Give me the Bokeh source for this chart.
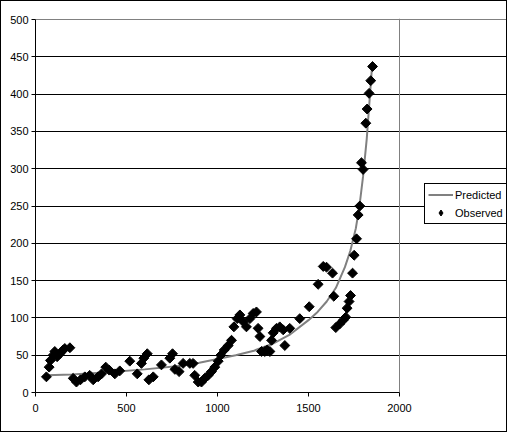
import math
from bokeh.plotting import figure
from bokeh.models import Range1d, FixedTicker, Legend, LegendItem, Grid
from bokeh.embed import file_html
from bokeh.resources import INLINE

obs_x = [60, 75, 82, 97, 106, 119, 134, 152, 161, 189, 207, 225, 247, 271, 298, 317, 344, 363,
         386, 405, 436, 463, 518, 559, 582, 595, 614, 623, 647, 692, 738, 753, 766, 789, 811,
         848, 866, 875, 894, 912, 930, 949, 967, 985, 1004, 1018, 1037, 1059, 1077, 1090,
         1108, 1123, 1141, 1159, 1178, 1196, 1214, 1223, 1233, 1242, 1260, 1273, 1288, 1297,
         1306, 1324, 1342, 1361, 1370, 1397, 1452, 1504, 1553, 1581, 1599, 1632, 1639, 1650,
         1672, 1691, 1705, 1712, 1723, 1731, 1742, 1751, 1764, 1773, 1782, 1791, 1800, 1815,
         1822, 1833, 1842, 1852]
obs_y = [21, 34, 43, 50, 55, 48, 52, 57, 59, 60, 19, 14, 17, 21, 23, 17, 21, 25,
         34, 30, 25, 29, 42, 25, 39, 46, 52, 17, 21, 37, 46, 52, 31, 28, 39,
         39, 39, 23, 14, 14, 19, 23, 28, 34, 42, 50, 57, 63, 70, 88,
         99, 104, 95, 88, 99, 106, 108, 86, 75, 55, 55, 57, 55, 70,
         80, 86, 88, 84, 63, 86, 99, 115, 145, 169, 168, 160, 129, 87,
         92, 97, 101, 113, 122, 130, 160, 184, 206, 238, 250, 308, 299, 361,
         380, 401, 418, 437]

# Predicted curve
pred_x = [60, 200, 400, 600, 800, 900, 1000, 1100, 1200, 1300, 1400, 1500, 1550, 1600, 1650,
          1700, 1730, 1760, 1780, 1800, 1820, 1835, 1850]
pred_y = [23, 24, 27, 31, 36, 40, 45, 50, 56, 65, 78, 97, 108, 122, 140,
          168, 190, 220, 250, 290, 340, 390, 440]

x_ticks = [0, 500, 1000, 1500, 2000]
y_ticks = [0, 50, 100, 150, 200, 250, 300, 350, 400, 450, 500]
X_MIN, X_MAX = 0, 2000
Y_MIN, Y_MAX = 0, 500

FONT = "Liberation Sans"

PLOT_W = 364       # width of the plotting area (0..2000)
PLOT_H = 373       # height of the plotting area (0..500)
LEGEND_ROOM = 107  # extra room on the right for the legend
x_end = X_MAX * (PLOT_W + LEGEND_ROOM) / PLOT_W
y_end = Y_MAX * (PLOT_H + 1) / PLOT_H   # 1px headroom so the top border shows

p = figure(frame_width=PLOT_W + LEGEND_ROOM, frame_height=PLOT_H + 1,
           output_backend="svg", toolbar_location=None,
           x_range=Range1d(X_MIN, x_end), y_range=Range1d(Y_MIN, y_end),
           min_border_left=34, min_border_right=0, min_border_top=17, min_border_bottom=39)
p.styles = {"border": "1px solid black"}
p.background_fill_color = "white"
p.border_fill_color = "white"
p.outline_line_color = None

p.xgrid.visible = False
p.ygrid.ticker = FixedTicker(ticks=y_ticks[1:-1])
p.ygrid.grid_line_color = "black"
p.ygrid.grid_line_width = 1
p.ygrid.bounds = (X_MIN, X_MAX)

# gray plot-area border (top and right)
p.add_layout(Grid(dimension=1, ticker=FixedTicker(ticks=[Y_MAX]), bounds=(X_MIN, X_MAX),
                  grid_line_color="#808080", grid_line_width=1))
p.add_layout(Grid(dimension=0, ticker=FixedTicker(ticks=[X_MAX]), bounds=(Y_MIN, Y_MAX),
                  grid_line_color="#808080", grid_line_width=1))

for ax, ticks in ((p.xaxis, x_ticks), (p.yaxis, y_ticks)):
    ax.ticker = FixedTicker(ticks=ticks)
    ax.axis_line_color = "black"
    ax.major_tick_line_color = "black"
    ax.major_tick_out = 4
    ax.major_tick_in = 0
    ax.minor_tick_line_color = None
    ax.major_label_text_font = FONT
    ax.major_label_text_font_size = "11px"
    ax.major_label_text_color = "black"
p.xaxis.bounds = (X_MIN, X_MAX)
p.yaxis.bounds = (Y_MIN, Y_MAX)
p.xaxis.major_label_standoff = 7
p.yaxis.major_label_standoff = 3

line_r = p.line(pred_x, pred_y, line_color="#808080", line_width=2)
pts_r = p.scatter(obs_x, obs_y, marker="square", size=7, angle=math.pi / 4,
                  fill_color="black", line_color="black")
# legend swatch for the observed diamonds (one undrawn point)
pts_key = p.scatter(x=[float("nan")], y=[float("nan")], marker="diamond", size=7,
                    fill_color="black", line_color="black")

legend = Legend(items=[LegendItem(label="Predicted", renderers=[line_r]),
                       LegendItem(label="Observed", renderers=[pts_key])],
                location=(389, 168))
legend.border_line_color = "black"
legend.border_line_alpha = 1.0
legend.border_line_width = 1
legend.background_fill_color = "white"
legend.background_fill_alpha = 1.0
legend.label_text_font = FONT
legend.label_text_font_size = "11px"
legend.label_text_color = "black"
legend.label_standoff = 2
legend.glyph_width = 25
legend.glyph_height = 15
legend.label_height = 15
legend.padding = 3
legend.spacing = 3
legend.margin = 0
p.add_layout(legend, "center")

open("out.html", "w").write(file_html(p, INLINE))
